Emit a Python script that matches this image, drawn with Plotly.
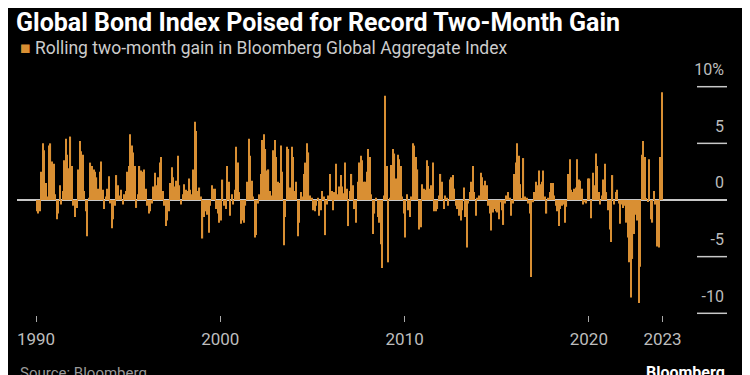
import pandas as pd
import plotly.graph_objects as go

# Rolling two-month gain (%) in Bloomberg Global Aggregate Index, monthly Jan 1990 - Dec 2023
gain_1990s = [
    -1.0, -1.2, -1.0, 2.5, 5.0, 4.4, 1.5, 0.3, 4.8, 5.0, 3.4, 3.2,
    0.5, -1.7, -1.2, 1.3, -0.4, 0.8, 3.5, 5.4, 4.0, 2.8, 5.6, 3.0,
    -0.5, -1.5, -0.7, 2.7, 5.2, 4.3, 4.0, 0.8, -1.0, -3.2, 0.2, 3.3,
    3.0, 2.7, 2.5, 2.0, 1.0, 2.5, 3.4, 0.9, -0.8, 0.3, 1.0, 2.1,
    -0.3, -2.5, -1.7, -0.5, 2.2, 1.3, 0.4, 0.9, -0.4, 0.5, 0.8, 2.5,
    3.0, 5.8, 4.8, 4.2, 3.0, -0.7, 0.5, 3.0, 2.6, 2.5, 2.7, 1.0,
    -0.5, -1.2, -1.0, -0.3, 1.2, 2.4, 1.3, 2.0, 3.3, 3.8, 0.8, -0.5,
    -2.3, -1.8, -1.0, 1.5, 2.9, 2.0, 1.2, 1.7, 3.9, 1.3, -0.4, 0.5,
    1.4, 0.9, 0.8, 1.9, 0.9, 0.5, 2.7, 6.9, 6.1, 0.8, 1.1, 0.3,
    -3.4, -1.5, -1.0, -1.3, -2.9, -0.5, 1.3, 1.0, 1.0, -0.8, -1.2, -2.0,
]
gain_2000s = [
    -1.8, 1.8, -0.5, -0.8, 3.0, 1.6, -1.4, 0.5, -0.4, 0.9, 4.7, 3.3,
    0.7, -2.1, -1.8, -2.0, -0.5, 1.6, 5.4, 3.9, 1.7, 0.3, -3.3, -3.1,
    -0.3, 0.5, 2.3, 5.3, 5.8, 4.5, 2.6, 2.7, 0.8, 0.4, 4.4, 5.3,
    3.8, 1.6, 1.5, 4.8, 2.5, -4.0, -1.5, 4.7, 4.5, 1.1, 4.7, 3.8,
    0.8, 1.6, -3.2, -2.0, 0.7, 0.3, 2.3, 3.3, 5.0, 4.2, 0.4, 0.2,
    -0.9, -1.0, -0.5, 0.2, -1.4, -0.9, 0.8, 0.3, -3.1, -0.4, 0.4, 2.3,
    0.8, -0.9, 0.7, 3.2, 0.5, 1.2, 2.2, 1.2, 0.6, 3.3, 1.0, -2.3,
    0.8, 2.3, 1.3, -0.8, -2.0, 1.6, 3.3, 3.9, 3.5, 1.6, 1.6, 2.5,
    4.5, 3.8, 0.5, -3.0, -1.2, 0.2, -1.5, -2.0, -3.9, -6.0, 0.4, 9.2,
    3.0, -5.5, 0.2, 3.1, 4.5, 4.1, 1.9, 4.0, 3.6, 3.0, 0.3, -1.2,
]
gain_2010s = [
    -3.3, 0.5, -0.9, -1.5, 0.3, 5.0, 4.8, 3.8, 2.7, -2.6, -2.4, 1.4,
    1.0, 0.9, 3.5, 3.0, 1.0, 1.3, 3.3, -1.0, -1.0, -0.8, 0.4, 2.3,
    1.6, -0.8, 0.4, 0.2, -0.5, 1.8, 2.0, 2.2, 1.0, -0.5, -0.8, -1.4,
    -1.8, -0.9, 1.1, -1.5, -4.2, -0.3, 0.7, 1.6, 3.0, 0.7, -1.4, 0.2,
    0.4, 2.4, 2.0, 1.3, 1.7, 1.3, -0.5, -1.2, -2.7, -1.1, -0.8, -1.0,
    -1.1, -1.7, -0.2, -0.9, -2.2, -0.3, 0.4, 0.7, 0.2, -1.4, -0.3, 2.3,
    3.3, 5.0, 3.9, 1.4, 0.1, 3.7, 0.3, 0.2, -0.3, -1.2, -6.8, -0.2,
    0.7, 1.6, 1.3, 2.6, 1.4, 1.6, 2.6, 0.3, -1.2, 0.2, 0.7, 1.5,
    1.5, 0.4, -0.5, -1.0, -2.3, -0.8, -0.5, -0.4, -2.0, -0.6, 2.3, 3.6,
    0.9, 0.7, 1.0, 1.1, 3.6, 1.8, 1.7, 1.0, -0.4, -0.2, -0.3, 1.9,
]
gain_2020s = [
    1.9, -1.6, 2.4, 1.3, 4.1, 3.0, 0.7, -0.4, 0.4, 1.8, 3.2, 0.7,
    -0.9, -2.6, -3.7, 2.2, -0.4, 0.7, 0.9, -0.3, -2.1, -0.4, -0.7, -0.5,
    -2.0, -3.3, -5.5, -8.6, -5.2, -3.0, -1.3, -1.8, -9.1, -5.9, 4.0, 5.2,
    3.8, 0.1, -0.1, 3.6, -1.7, -2.0, 0.8, -0.4, -4.1, -4.2, 3.8, 9.5,
]

gains = gain_1990s + gain_2000s + gain_2010s + gain_2020s
months = pd.date_range("1990-01-01", periods=len(gains), freq="MS") + pd.Timedelta(days=14)

x_tick_vals = ["1990-01-01", "2000-01-01", "2010-01-01", "2020-01-01", "2023-12-31"]
x_tick_text = ["1990", "2000", "2010", "2020", "2023"]
y_tick_vals = [10, 5, 0, -5, -10]
y_tick_text = ["10%", "5", "0", "-5", "-10"]

series_name = "Rolling two-month gain in Bloomberg Global Aggregate Index"
title_text = "Global Bond Index Poised for Record Two-Month Gain"

BAR = "#d98f33"
GRID = "#c8c8c8"
TXT = "#bdbdbd"
FONT = "Roboto, 'Liberation Sans', sans-serif"

# the page body adds an 8px offset; the figure is sized to fill the rest of the window
OFF = 8
W, H = 750 - OFF, 375 - OFF
L, R, T, B = 17 - OFF, 23, 85 - OFF, 60
PW, PH = W - L - R, H - T - B


def px_x(px_ref):
    return (px_ref - OFF - L) / PW


def px_y(py_ref):
    return (H - B - (py_ref - OFF)) / PH


fig = go.Figure()
fig.add_trace(go.Bar(
    x=months, y=gains,
    marker=dict(color=BAR, line=dict(width=0)),
    name=series_name,
    showlegend=False,
))

for v in y_tick_vals:
    if v != 0:
        fig.add_shape(type="line", xref="paper", yref="y", x0=px_x(697), x1=1.0, y0=v, y1=v,
                      line=dict(color=GRID, width=1.5), layer="above")

fig.update_layout(
    width=W, height=H,
    paper_bgcolor="black", plot_bgcolor="black",
    margin=dict(l=L, r=R, t=T, b=B, autoexpand=False),
    font=dict(family=FONT, color=TXT, size=15),
    bargap=0.18,
    title=dict(
        text="<b>" + title_text + "</b>",
        x=(16 - OFF) / W, xref="container", xanchor="left",
        y=1 - 14 / H, yref="container", yanchor="middle",
        font=dict(family=FONT, size=25, color="white"),
    ),
    xaxis=dict(
        type="date", range=["1988-12-20", "2027-07-01"],
        tickvals=x_tick_vals, ticktext=x_tick_text,
        ticks="outside", ticklen=6, tickwidth=1, tickcolor="#aaaaaa",
        ticklabelstandoff=3,
        showgrid=False, zeroline=False, showline=False, automargin=False,
        tickfont=dict(size=17, color=TXT),
    ),
    yaxis=dict(
        range=[-10.15, 10.15], side="right",
        tickvals=y_tick_vals, ticktext=y_tick_text,
        ticklabelposition="inside top", ticklabeloverflow="allow",
        ticklabelshift=-6,
        ticks="", showgrid=False, automargin=False,
        zeroline=True, zerolinecolor=GRID, zerolinewidth=1.5,
        tickfont=dict(size=16, color=TXT),
    ),
    annotations=[
        dict(text="<span style='color:" + BAR + "'>■</span> " + series_name,
             xref="paper", yref="paper",
             x=px_x(18), y=px_y(48), xanchor="left", yanchor="middle",
             showarrow=False, font=dict(size=17.5, color="#cccccc")),
        dict(text="Source: Bloomberg", xref="paper", yref="paper",
             x=px_x(18), y=px_y(373), xanchor="left", yanchor="middle",
             showarrow=False, font=dict(size=15, color="#9a9a9a")),
        dict(text="<b>Bloomberg</b>", xref="paper", yref="paper",
             x=px_x(727), y=px_y(372), xanchor="right", yanchor="middle",
             showarrow=False, font=dict(size=16, color="white")),
    ],
)

fig.write_html("out.html")
